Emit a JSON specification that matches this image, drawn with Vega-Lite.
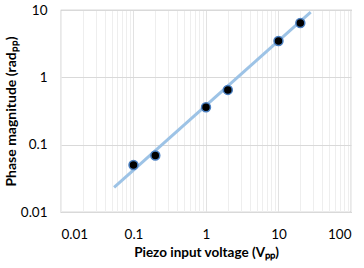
{
  "$schema": "https://vega.github.io/schema/vega-lite/v6.json",
  "width": 290,
  "height": 202,
  "autosize": "none",
  "padding": {"left": 61, "top": 10, "right": 13, "bottom": 56},
  "background": "white",
  "config": {
    "font": "Lato",
    "view": {"stroke": "#b3b3b3", "strokeWidth": 1.2},
    "axis": {"domain": false, "ticks": false, "labelFont": "Lato", "labelFontSize": 13.5, "labelColor": "#000000", "titleFont": "Lato", "titleFontSize": 13.5, "titleFontWeight": "bold", "titleColor": "#000000"}
  },
  "datasets": {
    "pts": [
      {"v": 0.1, "p": 0.05},
      {"v": 0.2, "p": 0.069},
      {"v": 1, "p": 0.36},
      {"v": 2, "p": 0.65},
      {"v": 10, "p": 3.47},
      {"v": 20, "p": 6.4}
    ],
    "fit": [
      {"v": 0.054, "p": 0.0233},
      {"v": 27.8, "p": 9.27}
    ]
  },
  "layer": [
    {
      "data": {"name": "fit"},
      "mark": {"type": "line", "color": "#9dc3e6", "strokeWidth": 3, "strokeCap": "butt"},
      "encoding": {
        "x": {
          "field": "v", "type": "quantitative",
          "scale": {"type": "log", "domain": [0.01, 100], "nice": false},
          "title": "Piezo input voltage (Vₚₚ)",
          "axis": {
            "values": [0.01,0.02,0.03,0.04,0.05,0.06,0.07,0.08,0.09,0.1,0.2,0.3,0.4,0.5,0.6,0.7,0.8,0.9,1,2,3,4,5,6,7,8,9,10,20,30,40,50,60,70,80,90,100],
            "labelExpr": "indexof([0.01,0.1,1,10,100], datum.value) >= 0 ? format(datum.value, '~g') : ''",
            "labelPadding": 15,
            "titlePadding": 5,
            "grid": true,
            "gridColor": {"condition": {"test": "indexof([0.1,1,10], datum.value) >= 0", "value": "#e2e2e2"}, "value": "#eeeeee"},
            "gridWidth": 1
          }
        },
        "y": {
          "field": "p", "type": "quantitative",
          "scale": {"type": "log", "domain": [0.01, 10], "nice": false},
          "title": "Phase magnitude (radₚₚ)",
          "axis": {
            "values": [0.01, 0.1, 1, 10],
            "labelExpr": "format(datum.value, '~g')",
            "labelPadding": 14,
            "titlePadding": 2,
            "titleFontSize": 14,
            "grid": true,
            "gridColor": "#d9d9d9",
            "gridWidth": 1.2
          }
        }
      }
    },
    {
      "data": {"name": "pts"},
      "mark": {"type": "point", "filled": true, "fill": "#000000", "stroke": "#4a7fc1", "strokeWidth": 1.5, "size": 80, "opacity": 1},
      "encoding": {
        "x": {"field": "v", "type": "quantitative"},
        "y": {"field": "p", "type": "quantitative"}
      }
    }
  ]
}
